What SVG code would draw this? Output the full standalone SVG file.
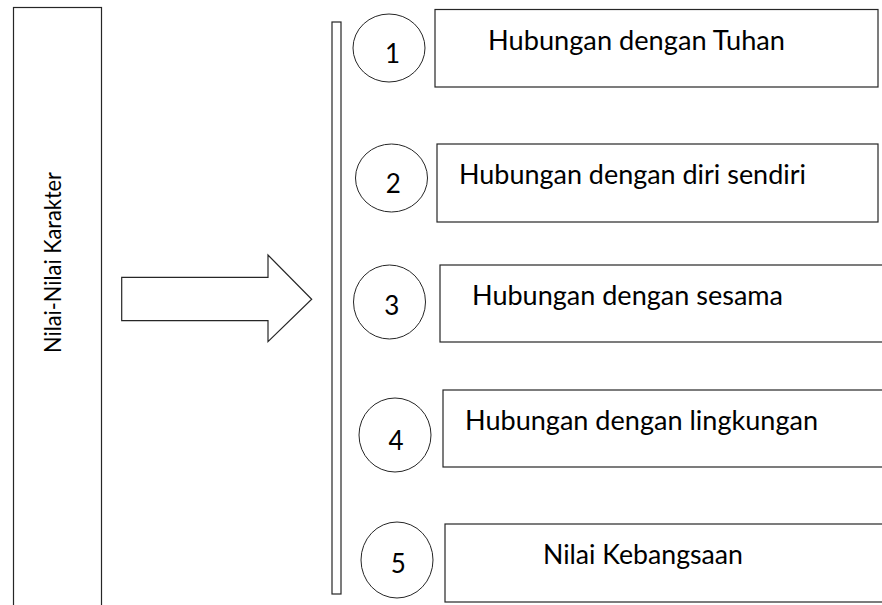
<svg xmlns="http://www.w3.org/2000/svg" width="882" height="605" viewBox="0 0 882 605">
<style>
.box{fill:#fff;stroke:#262626;stroke-width:1.2}
.circ{fill:#fff;stroke:#262626;stroke-width:1}
.lbl{font-family:Lato,"Liberation Sans",sans-serif;font-size:27px;fill:#000}
.num{font-family:Lato,"Liberation Sans",sans-serif;font-size:26px;fill:#000;text-anchor:middle}
</style>
<rect width="882" height="605" fill="#fff"/>
<g id="nilai-karakter">
<rect class="box" x="13.5" y="7.5" width="88" height="620"/>
<text class="lbl" style="font-size:24px" text-anchor="middle" textLength="181" lengthAdjust="spacingAndGlyphs" transform="translate(61,262.5) rotate(-90)">Nilai-Nilai Karakter</text>
</g>
<g id="connectors">
<polygon class="box" points="121.7,277.3 268,277.3 268,255 311.7,299.3 268,341.7 268,320.7 121.7,320.7"/>
</g>
<g id="bar">
<rect class="box" x="332" y="22" width="9" height="572"/>
</g>
<g id="item1">
<ellipse class="circ" cx="389" cy="48" rx="36" ry="34"/>
<text class="num" x="392.5" y="63">1</text>
<rect class="box" x="435" y="9.5" width="443" height="77.5"/>
<text class="lbl" x="488" y="50" textLength="297" lengthAdjust="spacingAndGlyphs">Hubungan dengan Tuhan</text>
</g>
<g id="item2">
<ellipse class="circ" cx="391.5" cy="178" rx="36" ry="34"/>
<text class="num" x="393.3" y="193">2</text>
<rect class="box" x="437" y="144" width="441" height="78"/>
<text class="lbl" x="459" y="184" textLength="347" lengthAdjust="spacingAndGlyphs">Hubungan dengan diri sendiri</text>
</g>
<g id="item3">
<ellipse class="circ" cx="389.5" cy="302" rx="36" ry="37"/>
<text class="num" x="391.7" y="315">3</text>
<rect class="box" x="440" y="265" width="450" height="77"/>
<text class="lbl" x="472" y="305" textLength="311" lengthAdjust="spacingAndGlyphs">Hubungan dengan sesama</text>
</g>
<g id="item4">
<ellipse class="circ" cx="395" cy="435" rx="36" ry="37"/>
<text class="num" x="396" y="450">4</text>
<rect class="box" x="443" y="390" width="450" height="77"/>
<text class="lbl" x="465" y="430" textLength="353" lengthAdjust="spacingAndGlyphs">Hubungan dengan lingkungan</text>
</g>
<g id="item5">
<ellipse class="circ" cx="397" cy="560" rx="36" ry="38"/>
<text class="num" x="398.3" y="573">5</text>
<rect class="box" x="445" y="524" width="450" height="78"/>
<text class="lbl" x="543" y="564" textLength="200" lengthAdjust="spacingAndGlyphs">Nilai Kebangsaan</text>
</g>
</svg>
